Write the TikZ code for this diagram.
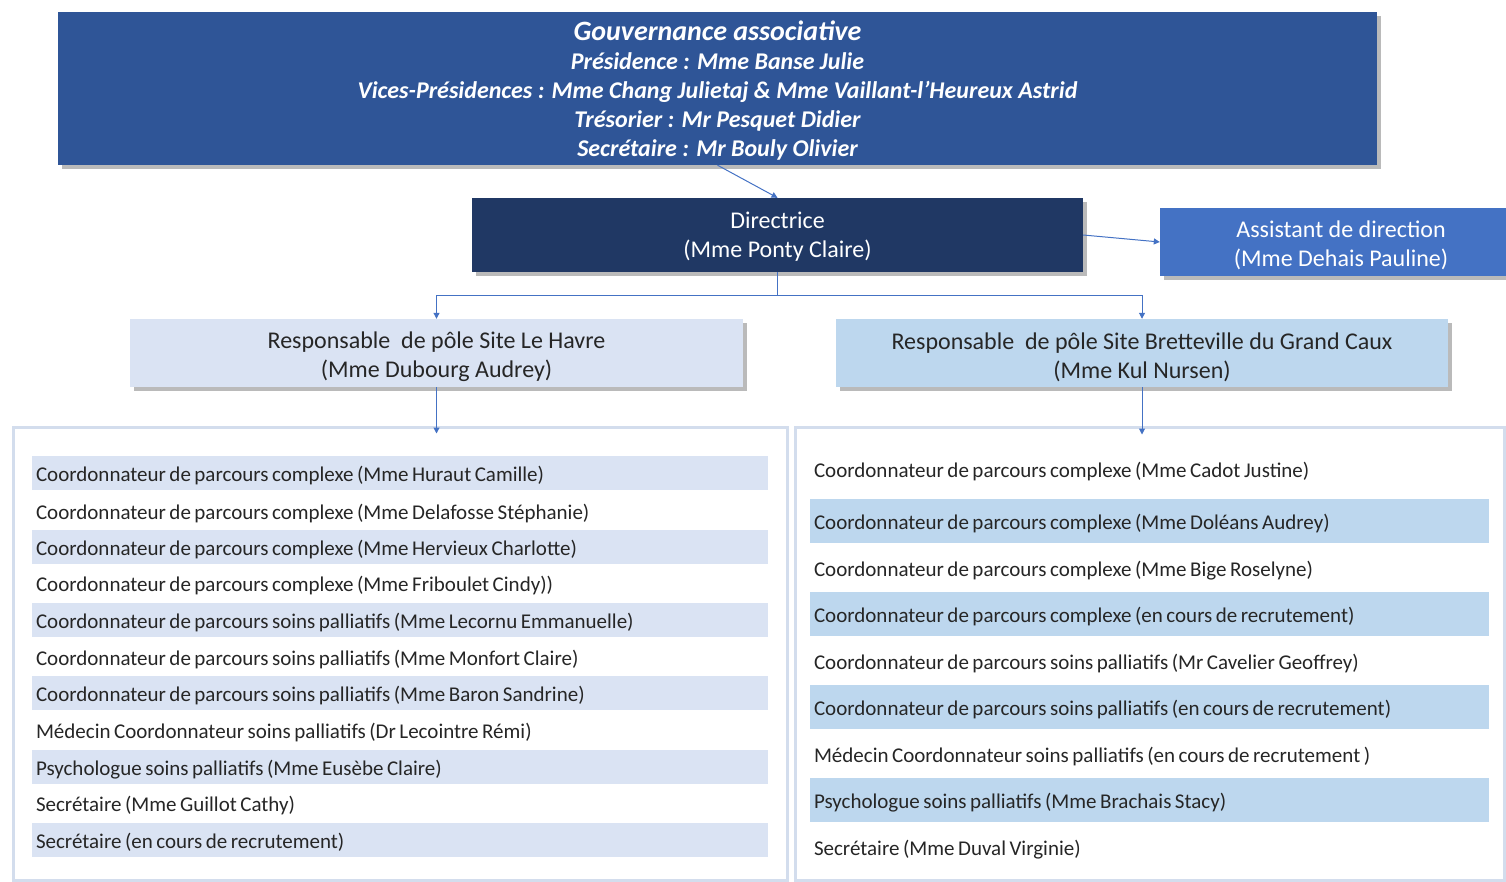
\documentclass[tikz,border=0pt]{standalone}
\usepackage{fontspec}
\setmainfont{Carlito}
\usetikzlibrary{shadows,arrows.meta}
\definecolor{govblue}{HTML}{2F5597}
\definecolor{dirblue}{HTML}{203864}
\definecolor{asblue}{HTML}{4472C4}
\definecolor{poleA}{HTML}{DAE3F3}
\definecolor{poleB}{HTML}{BDD7EE}
\definecolor{linkblue}{HTML}{4472C4}
\definecolor{framecol}{HTML}{D3DDED}
\definecolor{txt}{HTML}{262626}
\newcommand{\lift}[1]{\rule{0pt}{#1pt}}
\newcommand{\rowtxt}[1]{\spaceskip=3.5pt plus 1pt minus 0.5pt\relax\rule{0pt}{20pt}#1}
\begin{document}
\begin{tikzpicture}[x=1pt,y=-1pt,
  shad/.style={drop shadow={shadow xshift=4pt,shadow yshift=-4pt,opacity=0.45,fill=black!60}},
  govbox/.style={shad,fill=govblue,text=white,minimum width=1319pt,minimum height=153pt,align=center,inner sep=0pt,
     font=\fontsize{24}{29}\selectfont\bfseries\itshape},
  dirbox/.style={shad,fill=dirblue,text=white,minimum width=611pt,minimum height=74pt,align=center,inner sep=0pt,
     font=\fontsize{24}{29}\selectfont},
  asbox/.style={shad,fill=asblue,text=white,minimum width=362pt,minimum height=68pt,align=center,inner sep=0pt,
     font=\fontsize{24}{29}\selectfont},
  polebox/.style={shad,text=txt,minimum width=613pt,minimum height=68pt,align=center,inner sep=0pt,
     font=\fontsize{24}{29}\selectfont},
  listframe/.style={draw=framecol,line width=3pt,fill=white,minimum height=453pt,inner sep=0pt},
  lrow/.style={text=txt,minimum width=736pt,minimum height=34pt,text width=728pt,align=left,inner xsep=4pt,inner ysep=0pt,
     font=\fontsize{21}{22}\selectfont},
  rrow/.style={text=txt,minimum width=679pt,minimum height=44pt,text width=671pt,align=left,inner xsep=4pt,inner ysep=0pt,
     font=\fontsize{21}{22}\selectfont},
  link/.style={draw=linkblue,line width=1pt,-{Triangle[width=6pt,length=6pt]}}
]
\useasboundingbox (0,0) rectangle (1506,882);

\node[govbox] (gov) at (717.5,88.5) {\lift{23}{\fontsize{28}{31}\selectfont Gouvernance associative}\\[0pt]
Présidence : Mme Banse Julie\\
Vices-Présidences : Mme Chang Julietaj \& Mme Vaillant-l’Heureux Astrid\\
Trésorier : Mr Pesquet Didier\\
Secrétaire : Mr Bouly Olivier};

\node[dirbox] (dir) at (777.5,235) {\lift{20}Directrice\\(Mme Ponty Claire)};
\node[asbox] (asst) at (1341,242) {\lift{23}Assistant de direction\\(Mme Dehais Pauline)};

\node[polebox,fill=poleA] (lpole) at (436.5,353) {\lift{25}Responsable\ \ de pôle Site Le Havre\\(Mme Dubourg Audrey)};
\node[polebox,fill=poleB,minimum width=612pt] (rpole) at (1142,353) {\lift{25}Responsable\ \ de pôle Site Bretteville du Grand Caux\\(Mme Kul Nursen)};

\node[listframe,minimum width=774pt] (lframe) at (400,653.5) {};
\node[listframe,minimum width=709pt] (rframe) at (1149.5,653.5) {};

% left list
\node[lrow,fill=poleA] (l1) at (400,473) {\rowtxt{Coordonnateur de parcours complexe (Mme Huraut Camille)}};
\node[lrow] (l2) at (400,511) {\rowtxt{Coordonnateur de parcours complexe (Mme Delafosse Stéphanie)}};
\node[lrow,fill=poleA] (l3) at (400,547) {\rowtxt{Coordonnateur de parcours complexe (Mme Hervieux Charlotte)}};
\node[lrow] (l4) at (400,583) {\rowtxt{Coordonnateur de parcours complexe (Mme Friboulet Cindy))}};
\node[lrow,fill=poleA] (l5) at (400,620) {\rowtxt{Coordonnateur de parcours soins palliatifs (Mme Lecornu Emmanuelle)}};
\node[lrow] (l6) at (400,657) {\rowtxt{Coordonnateur de parcours soins palliatifs (Mme Monfort Claire)}};
\node[lrow,fill=poleA] (l7) at (400,693) {\rowtxt{Coordonnateur de parcours soins palliatifs (Mme Baron Sandrine)}};
\node[lrow] (l8) at (400,730) {\rowtxt{Médecin Coordonnateur soins palliatifs (Dr Lecointre Rémi)}};
\node[lrow,fill=poleA] (l9) at (400,767) {\rowtxt{Psychologue soins palliatifs (Mme Eusèbe Claire)}};
\node[lrow] (l10) at (400,803) {\rowtxt{Secrétaire (Mme Guillot Cathy)}};
\node[lrow,fill=poleA] (l11) at (400,840) {\rowtxt{Secrétaire (en cours de recrutement)}};

% right list
\node[rrow] (r1) at (1149.5,469) {\rowtxt{Coordonnateur de parcours complexe (Mme Cadot Justine)}};
\node[rrow,fill=poleB] (r2) at (1149.5,521) {\rowtxt{Coordonnateur de parcours complexe (Mme Doléans Audrey)}};
\node[rrow] (r3) at (1149.5,568) {\rowtxt{Coordonnateur de parcours complexe (Mme Bige Roselyne)}};
\node[rrow,fill=poleB] (r4) at (1149.5,614) {\rowtxt{Coordonnateur de parcours complexe (en cours de recrutement)}};
\node[rrow] (r5) at (1149.5,661) {\rowtxt{Coordonnateur de parcours soins palliatifs (Mr Cavelier Geoffrey)}};
\node[rrow,fill=poleB] (r6) at (1149.5,707) {\rowtxt{Coordonnateur de parcours soins palliatifs (en cours de recrutement)}};
\node[rrow] (r7) at (1149.5,754) {\rowtxt{Médecin Coordonnateur soins palliatifs (en cours de recrutement )}};
\node[rrow,fill=poleB] (r8) at (1149.5,800) {\rowtxt{Psychologue soins palliatifs (Mme Brachais Stacy)}};
\node[rrow] (r9) at (1149.5,847) {\rowtxt{Secrétaire (Mme Duval Virginie)}};

% connectors
\draw[link] (gov.south) -- (dir.north);
\draw[link] (dir.east) -- (asst.west);
\draw[link] (dir.south) -- ++(0,23) -| (lpole.north);
\draw[link] (dir.south) -- ++(0,23) -| (rpole.north);
\draw[link,shorten >=-8pt] (lpole.south) -- (lpole.south |- lframe.north);
\draw[link,shorten >=-9pt] (rpole.south) -- (rpole.south |- rframe.north);
\end{tikzpicture}
\end{document}
